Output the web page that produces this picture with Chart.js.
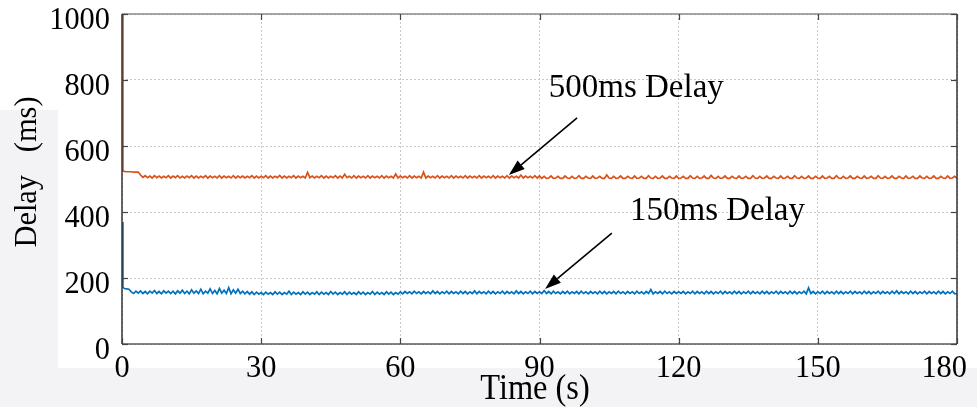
<!DOCTYPE html>
<html>
<head>
<meta charset="utf-8">
<script src="https://cdn.jsdelivr.net/npm/chart.js@4.4.1/dist/chart.umd.min.js"></script>
<style>
  html, body { margin: 0; padding: 0; background: #ffffff; }
  #c { display: block; }
</style>
</head>
<body>
<canvas id="c" width="977" height="407"></canvas>
<script>
// ---------------- DATA ----------------
const timeSeconds = [
  0, 0.2,
  0.5,1,1.5,2,2.5,3,3.5,4,4.5,5,5.5,6,6.5,7,7.5,8,8.5,9,9.5,10,
  10.5,11,11.5,12,12.5,13,13.5,14,14.5,15,15.5,16,16.5,17,17.5,18,18.5,19,19.5,20,
  20.5,21,21.5,22,22.5,23,23.5,24,24.5,25,25.5,26,26.5,27,27.5,28,28.5,29,29.5,30,
  30.5,31,31.5,32,32.5,33,33.5,34,34.5,35,35.5,36,36.5,37,37.5,38,38.5,39,39.5,40,
  40.5,41,41.5,42,42.5,43,43.5,44,44.5,45,45.5,46,46.5,47,47.5,48,48.5,49,49.5,50,
  50.5,51,51.5,52,52.5,53,53.5,54,54.5,55,55.5,56,56.5,57,57.5,58,58.5,59,59.5,60,
  60.5,61,61.5,62,62.5,63,63.5,64,64.5,65,65.5,66,66.5,67,67.5,68,68.5,69,69.5,70,
  70.5,71,71.5,72,72.5,73,73.5,74,74.5,75,75.5,76,76.5,77,77.5,78,78.5,79,79.5,80,
  80.5,81,81.5,82,82.5,83,83.5,84,84.5,85,85.5,86,86.5,87,87.5,88,88.5,89,89.5,90,
  90.5,91,91.5,92,92.5,93,93.5,94,94.5,95,95.5,96,96.5,97,97.5,98,98.5,99,99.5,100,
  100.5,101,101.5,102,102.5,103,103.5,104,104.5,105,105.5,106,106.5,107,107.5,108,108.5,109,109.5,110,
  110.5,111,111.5,112,112.5,113,113.5,114,114.5,115,115.5,116,116.5,117,117.5,118,118.5,119,119.5,120,
  120.5,121,121.5,122,122.5,123,123.5,124,124.5,125,125.5,126,126.5,127,127.5,128,128.5,129,129.5,130,
  130.5,131,131.5,132,132.5,133,133.5,134,134.5,135,135.5,136,136.5,137,137.5,138,138.5,139,139.5,140,
  140.5,141,141.5,142,142.5,143,143.5,144,144.5,145,145.5,146,146.5,147,147.5,148,148.5,149,149.5,150,
  150.5,151,151.5,152,152.5,153,153.5,154,154.5,155,155.5,156,156.5,157,157.5,158,158.5,159,159.5,160,
  160.5,161,161.5,162,162.5,163,163.5,164,164.5,165,165.5,166,166.5,167,167.5,168,168.5,169,169.5,170,
  170.5,171,171.5,172,172.5,173,173.5,174,174.5,175,175.5,176,176.5,177,177.5,178,178.5,179,179.5,180
];

const delay500 = [
  1000, 524,
  523,522,522,522,521,521,521,512,505,510,504,509,503,510,504,509,503,508,504,510,
  503,509,504,510,503,508,503,509,504,510,503,509,503,508,504,510,503,509,504,508,
  503,510,503,509,504,508,503,510,503,509,504,509,503,508,504,510,503,509,503,508,
  504,510,503,509,503,508,504,511,503,509,503,508,504,510,503,509,504,508,503,520,
  504,509,503,508,504,510,503,509,503,508,504,510,503,509,503,514,504,508,503,510,
  503,509,504,508,503,510,503,509,504,508,503,510,503,509,504,508,503,515,503,509,
  504,508,503,510,503,509,504,508,503,521,503,509,504,508,503,510,503,509,504,508,
  503,510,503,509,504,508,503,510,503,509,504,508,503,510,503,509,504,508,503,510,
  503,509,504,508,503,510,503,509,504,508,503,512,503,509,504,508,503,510,503,509,
  502,508,502,503,509,502,503,508,502,502,509,503,502,508,502,503,510,502,502,508,
  503,502,509,502,503,508,502,502,512,503,502,508,502,503,509,502,502,508,503,502,
  509,502,503,508,502,502,510,503,502,508,502,503,509,502,502,508,503,502,509,502,
  503,508,502,502,510,503,502,508,502,503,509,502,502,511,503,502,508,502,503,509,
  502,502,508,503,502,509,502,503,508,502,502,510,503,502,508,502,503,509,502,502,
  508,503,502,509,502,503,508,502,502,510,503,502,508,502,503,509,502,502,508,503,
  502,509,502,503,508,502,502,510,503,502,508,502,503,509,502,502,508,503,502,509,
  502,503,508,502,502,510,503,502,508,502,503,509,502,502,508,503,502,509,502,503,
  508,502,502,509,503,502,508,502,503,509,502,502,508,503,502,509,502,503,508,502
];

const delay150 = [
  370, 172,
  168,167,166,158,153,160,154,161,153,159,152,160,154,162,153,159,152,161,154,160,
  153,160,152,161,154,163,153,160,152,164,154,161,153,166,152,160,154,167,153,162,
  152,168,154,163,153,171,152,164,154,166,153,160,152,159,151,158,150,157,151,156,
  150,157,151,156,150,158,151,157,150,156,151,160,150,157,151,156,150,158,151,157,
  150,156,151,158,150,157,151,156,150,159,151,157,150,156,151,158,150,157,151,156,
  150,158,151,157,150,156,151,159,150,157,151,156,150,158,151,157,150,156,151,158,
  152,159,153,158,152,160,153,158,152,159,153,158,152,161,153,159,152,158,153,160,
  152,159,153,158,152,160,153,159,152,158,153,161,152,159,153,158,152,160,153,159,
  152,158,153,160,152,159,153,158,152,161,153,159,152,158,153,160,152,159,153,158,
  153,162,153,159,152,160,153,158,152,159,153,160,152,158,153,159,152,160,153,158,
  152,159,153,158,152,160,153,159,152,158,153,159,152,160,153,158,152,159,153,158,
  152,160,153,158,152,159,153,165,152,158,153,159,152,160,153,158,152,159,153,158,
  153,159,152,158,153,160,152,159,153,158,152,160,153,159,152,158,153,160,152,159,
  153,158,152,160,153,159,152,158,153,160,152,159,153,158,152,160,153,159,152,158,
  153,160,152,159,153,158,152,160,153,159,152,158,153,160,152,170,153,159,152,158,
  153,160,152,159,153,158,152,160,153,159,152,158,153,160,152,159,153,158,152,160,
  153,159,152,158,153,160,152,159,153,158,152,160,153,161,152,159,153,158,152,160,
  153,159,152,158,153,160,152,159,153,158,152,160,153,159,152,158,153,160,152,153
];

const xTickValues = [0, 30, 60, 90, 120, 150, 180];
const xTickLabels = ['0', '30', '60', '90', '120', '150', '180'];
const yTickValues = [0, 200, 400, 600, 800, 1000];
const yTickLabels = ['0', '200', '400', '600', '800', '1000'];

const xAxisTitle = 'Time (s)';
const yAxisTitle = 'Delay   (ms)';

const annotationTexts = ['500ms Delay', '150ms Delay'];

// ---------------- STYLE / LAYOUT ----------------
const SERIF = '"Liberation Serif", "Times New Roman", serif';
const COLOR_500 = '#D95319';
const COLOR_150 = '#0072BD';

// annotation placement expressed in data coordinates (time s, delay ms)
const annotationLayout = [
  { text: { x: 92.0, y: 748 }, from: { x: 98.1, y: 685 }, to: { x: 83.4, y: 512 } },
  { text: { x: 109.5, y: 376 }, from: { x: 105.6, y: 336 }, to: { x: 91.2, y: 167 } }
];

const points500 = timeSeconds.map((t, i) => ({ x: t, y: delay500[i] }));
const points150 = timeSeconds.map((t, i) => ({ x: t, y: delay150[i] }));

function drawScaledText(ctx, text, x, y, font, align, sx) {
  ctx.save();
  ctx.translate(x, y);
  ctx.scale(sx, 1);
  ctx.font = font;
  ctx.textAlign = align;
  ctx.textBaseline = 'alphabetic';
  ctx.fillText(text, 0, 0);
  ctx.restore();
}

const decorPlugin = {
  id: 'decor',
  beforeDraw(chart) {
    const ctx = chart.ctx;
    ctx.save();
    ctx.fillStyle = '#ffffff';
    ctx.fillRect(0, 0, chart.width, chart.height);
    ctx.fillStyle = '#f3f3f5';
    ctx.fillRect(0, 368, chart.width, chart.height - 368);
    ctx.fillRect(0, 110, 58, 258);
    ctx.restore();
  },
  afterDraw(chart) {
    const ctx = chart.ctx;
    const a = chart.chartArea;
    const xs = chart.scales.x, ys = chart.scales.y;
    ctx.save();

    // frame
    ctx.lineWidth = 1.5;
    ctx.strokeStyle = '#8a8a8a';
    ctx.beginPath(); ctx.moveTo(a.left, a.top); ctx.lineTo(a.right, a.top); ctx.stroke();
    ctx.strokeStyle = '#5a5a5a';
    ctx.beginPath(); ctx.moveTo(a.left, a.bottom); ctx.lineTo(a.right, a.bottom); ctx.stroke();
    ctx.strokeStyle = '#333333';
    ctx.beginPath(); ctx.moveTo(a.left, a.top); ctx.lineTo(a.left, a.bottom); ctx.stroke();
    ctx.beginPath(); ctx.moveTo(a.right, a.top); ctx.lineTo(a.right, a.bottom); ctx.stroke();

    // inward tick marks
    ctx.lineWidth = 1.2;
    ctx.strokeStyle = '#444444';
    const tl = 6;
    xTickValues.forEach(v => {
      const px = Math.round(xs.getPixelForValue(v)) + 0.5;
      ctx.beginPath(); ctx.moveTo(px, a.bottom); ctx.lineTo(px, a.bottom - tl); ctx.stroke();
      ctx.beginPath(); ctx.moveTo(px, a.top); ctx.lineTo(px, a.top + tl); ctx.stroke();
    });
    yTickValues.forEach(v => {
      const py = Math.round(ys.getPixelForValue(v)) + 0.5;
      ctx.beginPath(); ctx.moveTo(a.left, py); ctx.lineTo(a.left + tl, py); ctx.stroke();
      ctx.beginPath(); ctx.moveTo(a.right, py); ctx.lineTo(a.right - tl, py); ctx.stroke();
    });

    // tick labels
    ctx.fillStyle = '#000000';
    const tickFont = '32px ' + SERIF;
    const sx = 0.95;
    xTickValues.forEach((v, i) => {
      const px = xs.getPixelForValue(v);
      ctx.font = tickFont;
      const w = ctx.measureText(xTickLabels[i]).width * sx;
      if (px + w / 2 > chart.width - 10) {
        drawScaledText(ctx, xTickLabels[i], chart.width - 10, a.bottom + 33, tickFont, 'right', sx);
      } else {
        drawScaledText(ctx, xTickLabels[i], px, a.bottom + 33, tickFont, 'center', sx);
      }
    });
    yTickValues.forEach((v, i) => {
      const py = ys.getPixelForValue(v);
      drawScaledText(ctx, yTickLabels[i], a.left - 12, py + 15, tickFont, 'right', sx);
    });

    // axis titles
    drawScaledText(ctx, xAxisTitle, 535, 399, '36px ' + SERIF, 'center', 0.9);
    ctx.save();
    ctx.translate(36, 172);
    ctx.rotate(-Math.PI / 2);
    ctx.scale(0.95, 1);
    ctx.font = '32px ' + SERIF;
    ctx.textAlign = 'center';
    ctx.textBaseline = 'alphabetic';
    ctx.fillText(yAxisTitle, 0, 0);
    ctx.restore();

    // annotations with arrows
    annotationLayout.forEach((ann, i) => {
      const tx = xs.getPixelForValue(ann.text.x), ty = ys.getPixelForValue(ann.text.y);
      drawScaledText(ctx, annotationTexts[i], tx, ty, '33px ' + SERIF, 'left', 1);
      const x0 = xs.getPixelForValue(ann.from.x), y0 = ys.getPixelForValue(ann.from.y);
      const x1 = xs.getPixelForValue(ann.to.x), y1 = ys.getPixelForValue(ann.to.y);
      const ang = Math.atan2(y1 - y0, x1 - x0);
      const hl = 16, hw = 5.5;
      const bx = x1 - hl * Math.cos(ang), by = y1 - hl * Math.sin(ang);
      ctx.strokeStyle = '#000000';
      ctx.lineWidth = 1.6;
      ctx.beginPath(); ctx.moveTo(x0, y0); ctx.lineTo(bx, by); ctx.stroke();
      ctx.fillStyle = '#000000';
      ctx.beginPath();
      ctx.moveTo(x1, y1);
      ctx.lineTo(bx + hw * Math.sin(ang), by - hw * Math.cos(ang));
      ctx.lineTo(bx - hw * Math.sin(ang), by + hw * Math.cos(ang));
      ctx.closePath();
      ctx.fill();
    });

    ctx.restore();
  }
};

new Chart(document.getElementById('c'), {
  type: 'line',
  data: {
    datasets: [
      { label: '500ms Delay', data: points500, borderColor: COLOR_500, borderWidth: 1.7,
        pointRadius: 0, tension: 0, fill: false },
      { label: '150ms Delay', data: points150, borderColor: COLOR_150, borderWidth: 1.7,
        pointRadius: 0, tension: 0, fill: false }
    ]
  },
  options: {
    responsive: false,
    animation: false,
    devicePixelRatio: 1,
    layout: { padding: { left: 122, right: 20, top: 14, bottom: 63 } },
    plugins: { legend: { display: false }, tooltip: { enabled: false } },
    scales: {
      x: {
        type: 'linear', min: 0, max: 180,
        ticks: { display: false, stepSize: 30 },
        grid: { color: '#c8c8c8', lineWidth: 1, drawTicks: false },
        border: { display: false, dash: [2, 2] },
        afterFit: s => { s.height = 0; }
      },
      y: {
        type: 'linear', min: 0, max: 1000,
        ticks: { display: false, stepSize: 200 },
        grid: { color: '#c8c8c8', lineWidth: 1, drawTicks: false },
        border: { display: false, dash: [2, 2] },
        afterFit: s => { s.width = 0; }
      }
    }
  },
  plugins: [decorPlugin]
});
</script>
</body>
</html>
